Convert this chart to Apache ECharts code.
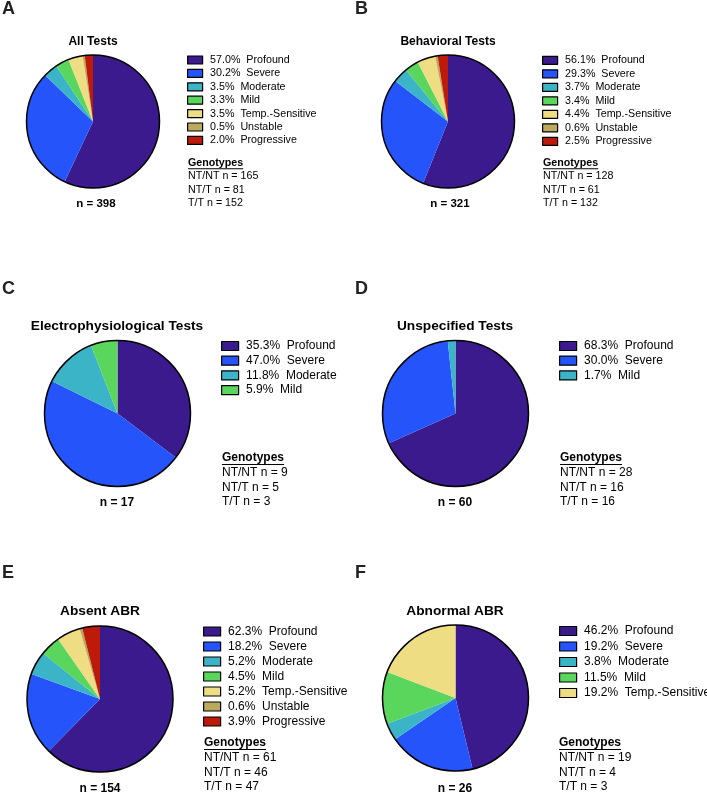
<!DOCTYPE html>
<html><head><meta charset="utf-8">
<script src="https://cdn.jsdelivr.net/npm/echarts@6/dist/echarts.min.js"></script>
<style>html,body{margin:0;padding:0;background:#fff}#c{width:707px;height:793px}</style>
</head><body><div id="c"></div>
<script>
// ---------- DATA ----------
const letters = ['A', 'B', 'C', 'D', 'E', 'F'];
const titles = ['All Tests', 'Behavioral Tests', 'Electrophysiological Tests', 'Unspecified Tests', 'Absent ABR', 'Abnormal ABR'];
const namesA = ['Profound', 'Severe', 'Moderate', 'Mild', 'Temp.-Sensitive', 'Unstable', 'Progressive'];
const valuesA = [57.0, 30.2, 3.5, 3.3, 3.5, 0.5, 2.0];
const namesB = ['Profound', 'Severe', 'Moderate', 'Mild', 'Temp.-Sensitive', 'Unstable', 'Progressive'];
const valuesB = [56.1, 29.3, 3.7, 3.4, 4.4, 0.6, 2.5];
const namesC = ['Profound', 'Severe', 'Moderate', 'Mild'];
const valuesC = [35.3, 47.0, 11.8, 5.9];
const namesD = ['Profound', 'Severe', 'Mild'];
const valuesD = [68.3, 30.0, 1.7];
const namesE = ['Profound', 'Severe', 'Moderate', 'Mild', 'Temp.-Sensitive', 'Unstable', 'Progressive'];
const valuesE = [62.3, 18.2, 5.2, 4.5, 5.2, 0.6, 3.9];
const namesF = ['Profound', 'Severe', 'Moderate', 'Mild', 'Temp.-Sensitive'];
const valuesF = [46.2, 19.2, 3.8, 11.5, 19.2];
const genotypeLabels = ['NT/NT', 'NT/T', 'T/T'];
const genoA = [165, 81, 152];
const genoB = [128, 61, 132];
const genoC = [9, 5, 3];
const genoD = [28, 16, 16];
const genoE = [61, 46, 47];
const genoF = [19, 4, 3];
const totals = [398, 321, 17, 60, 154, 26];

// ---------- STYLE / LAYOUT ----------
const palette = ['#3B1A8E', '#2554FA', '#3AB4C6', '#5AD65C', '#EEDD82', '#BBAA5C', '#BE1A0A'];
const FONT = '"Liberation Sans", Arial, Helvetica, sans-serif';
const allNames = [namesA, namesB, namesC, namesD, namesE, namesF];
const allValues = [valuesA, valuesB, valuesC, valuesD, valuesE, valuesF];
const allGeno = [genoA, genoB, genoC, genoD, genoE, genoF];

const layout = [
  {cx: 93,    cy: 121.5, r: 66.5, lx: 2,   ly: 9,   tx: 93,  ty: 42,  fs: 10.7, tfs: 12,   nfs: 11.5, legX: 187, legY0: 60,  legStep: 13.4, bw: 15, bh: 8, genX: 188, genY0: 163, genStep: 13.4, nx: 96,  ny: 203.5},
  {cx: 448,   cy: 121.5, r: 66.5, lx: 355, ly: 9,   tx: 448, ty: 42,  fs: 10.7, tfs: 12,   nfs: 11.5, legX: 542, legY0: 60.3,legStep: 13.5, bw: 15, bh: 8, genX: 543, genY0: 163, genStep: 13.4, nx: 450, ny: 203.5},
  {cx: 117.5, cy: 413.5, r: 73,   lx: 2,   ly: 289, tx: 117, ty: 326, fs: 12,   tfs: 13.7, nfs: 12,   legX: 221, legY0: 346, legStep: 14.7, bw: 17, bh: 9, genX: 222, genY0: 458, genStep: 14.7, nx: 117, ny: 502.5},
  {cx: 455.5, cy: 413.5, r: 73,   lx: 355, ly: 289, tx: 455, ty: 326, fs: 12,   tfs: 13.7, nfs: 12,   legX: 559, legY0: 346, legStep: 14.7, bw: 17, bh: 9, genX: 560, genY0: 458, genStep: 14.7, nx: 455, ny: 502.5},
  {cx: 100,   cy: 699,   r: 73,   lx: 2,   ly: 573, tx: 100, ty: 611, fs: 12,   tfs: 13.7, nfs: 12,   legX: 203, legY0: 631.5,legStep: 15,  bw: 17, bh: 9, genX: 204, genY0: 743, genStep: 14.7, nx: 100, ny: 789},
  {cx: 455.5, cy: 698,   r: 73,   lx: 355, ly: 573, tx: 455, ty: 611, fs: 12,   tfs: 13.7, nfs: 12,   legX: 559, legY0: 631,  legStep: 15.5, bw: 17, bh: 9, genX: 559, genY0: 743, genStep: 14.7, nx: 455, ny: 789}
];

const measureCtx = document.createElement('canvas').getContext('2d');
function textWidth(txt, font) { measureCtx.font = font; return measureCtx.measureText(txt).width; }

const series = [];
const legends = [];
const graphics = [];

layout.forEach((p, k) => {
  const names = allNames[k], values = allValues[k], geno = allGeno[k];
  const key = n => letters[k] + ':' + n;
  const label = {};
  names.forEach((n, i) => { label[key(n)] = values[i].toFixed(1) + '%  ' + n; });

  series.push({
    type: 'pie', center: [p.cx, p.cy], radius: p.r, startAngle: 90, clockwise: true,
    silent: true, animation: false, label: {show: false}, labelLine: {show: false},
    emphasis: {disabled: true},
    itemStyle: {borderWidth: 0},
    data: names.map((n, i) => ({name: key(n), value: values[i], itemStyle: {color: palette[i]}}))
  });
  series.push({
    type: 'pie', center: [p.cx, p.cy], radius: p.r, silent: true, animation: false, z: 5,
    label: {show: false}, labelLine: {show: false}, emphasis: {disabled: true},
    itemStyle: {color: 'rgba(0,0,0,0)', borderColor: '#000', borderWidth: 1.5},
    data: [{name: 'outline' + k, value: 1}]
  });

  const lh = p.fs + 1;
  legends.push({
    orient: 'vertical', left: p.legX, top: p.legY0 - lh / 2, padding: 0,
    itemGap: p.legStep - lh, itemWidth: p.bw, itemHeight: p.bh, icon: 'rect',
    selectedMode: false,
    data: names.map(key),
    formatter: n => label[n],
    itemStyle: {borderColor: '#000', borderWidth: 1.2},
    textStyle: {fontFamily: FONT, fontSize: p.fs, color: '#000', lineHeight: lh, padding: [0, 0, 0, 2.5]}
  });

  // panel letter
  graphics.push({type: 'text', x: p.lx, y: p.ly, style: {text: letters[k], font: 'bold 18px ' + FONT, fill: '#222', textAlign: 'left', textVerticalAlign: 'middle'}});
  // title
  graphics.push({type: 'text', x: p.tx, y: p.ty, style: {text: titles[k], font: 'bold ' + p.tfs + 'px ' + FONT, fill: '#000', textAlign: 'center', textVerticalAlign: 'middle'}});
  // n label
  graphics.push({type: 'text', x: p.nx, y: p.ny, style: {text: 'n = ' + totals[k], font: 'bold ' + p.nfs + 'px ' + FONT, fill: '#000', textAlign: 'center', textVerticalAlign: 'middle'}});
  // genotypes header
  const hfont = 'bold ' + p.fs + 'px ' + FONT;
  graphics.push({type: 'text', x: p.genX, y: p.genY0, style: {text: 'Genotypes', font: hfont, fill: '#000', textAlign: 'left', textVerticalAlign: 'middle'}});
  graphics.push({type: 'rect', shape: {x: p.genX, y: p.genY0 + p.fs * 0.5, width: textWidth('Genotypes', hfont), height: 1}, style: {fill: '#000'}});
  genotypeLabels.forEach((g, i) => {
    graphics.push({type: 'text', x: p.genX, y: p.genY0 + p.genStep * (i + 1), style: {text: g + ' n = ' + geno[i], font: p.fs + 'px ' + FONT, fill: '#000', textAlign: 'left', textVerticalAlign: 'middle'}});
  });
});

const chart = echarts.init(document.getElementById('c'), null, {renderer: 'canvas'});
chart.setOption({
  animation: false,
  backgroundColor: '#fff',
  legend: legends,
  series: series,
  graphic: {elements: graphics}
});
</script>
</body></html>
